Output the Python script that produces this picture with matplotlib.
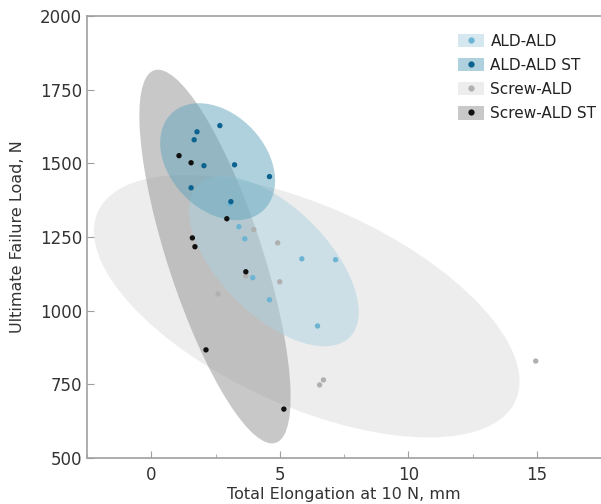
# scatter of elongation vs failure load with 90% confidence ellipses per group
import numpy as np
import matplotlib.pyplot as plt
from matplotlib.patches import Ellipse, Patch
from matplotlib.lines import Line2D
from matplotlib.ticker import MultipleLocator

groups = ["ALD-ALD", "ALD-ALD ST", "Screw-ALD", "Screw-ALD ST"]

ald_x = [3.06, 3.41, 3.64, 3.95, 4.6, 5.86, 7.17, 6.47]
ald_y = [1363, 1285, 1244, 1112, 1037, 1176, 1173, 948]

ald_st_x = [1.78, 1.67, 2.67, 2.05, 3.24, 4.6, 1.55, 3.1]
ald_st_y = [1607, 1580, 1628, 1492, 1495, 1455, 1417, 1370]

screw_x = [3.99, 4.92, 5.0, 3.68, 2.6, 6.7, 6.55, 14.96]
screw_y = [1275, 1230, 1098, 1118, 1057, 765, 748, 829]

screw_st_x = [1.08, 1.55, 2.94, 1.6, 1.7, 3.68, 2.13, 5.16]
screw_st_y = [1526, 1502, 1312, 1247, 1217, 1132, 867, 666]

xs = [ald_x, ald_st_x, screw_x, screw_st_x]
ys = [ald_y, ald_st_y, screw_y, screw_st_y]

dot_colors = ["#6db4d3", "#0d6390", "#b0b0b0", "#111111"]
fill_colors = ["#acd2e0", "#61a5bd", "#dcdcdc", "#939393"]
fill_alpha = 0.5

# 90% region for 2 dof
n_std = np.sqrt(-2 * np.log(0.1))


def conf_ellipse(x, y, ax, color, z):
    cov = np.cov(x, y)
    vals, vecs = np.linalg.eigh(cov)
    order = vals.argsort()[::-1]
    vals, vecs = vals[order], vecs[:, order]
    angle = np.degrees(np.arctan2(vecs[1, 0], vecs[0, 0]))
    w, h = 2 * n_std * np.sqrt(vals)
    e = Ellipse((np.mean(x), np.mean(y)), w, h, angle=angle,
                facecolor=color, alpha=fill_alpha, edgecolor="none", zorder=z)
    ax.add_patch(e)


fig = plt.figure(figsize=(6.01, 5.04), dpi=100)
ax = fig.add_axes([87 / 601, 46 / 504, 514 / 601, 442 / 504])

# screw groups underneath, ALD groups on top
draw_order = [2, 3, 0, 1]
for k, i in enumerate(draw_order):
    conf_ellipse(xs[i], ys[i], ax, fill_colors[i], 1 + k * 0.1)

for x, y, dc in zip(xs, ys, dot_colors):
    ax.scatter(x, y, s=15, color=dc, edgecolors="none", zorder=3)

ax.set_xlim(-2.5, 17.5)
ax.set_ylim(500, 2000)
ax.xaxis.set_major_locator(MultipleLocator(5))
ax.xaxis.set_minor_locator(MultipleLocator(2.5))
ax.yaxis.set_major_locator(MultipleLocator(250))

for s in ["left", "bottom", "top"]:
    ax.spines[s].set_color("#a0a0a0")
    ax.spines[s].set_linewidth(1.2)
ax.spines["right"].set_visible(False)

ax.tick_params(which="both", direction="in", color="#a0a0a0", labelcolor="#333333",
               labelsize=12)
ax.tick_params(which="major", length=5)
ax.tick_params(which="minor", length=3)
ax.tick_params(axis="x", pad=6)

ax.set_xlabel("Total Elongation at 10 N, mm", fontsize=11.5, color="#333333", labelpad=2)
ax.set_ylabel("Ultimate Failure Load, N", fontsize=11.5, color="#333333", labelpad=11)

handles = []
for fc, dc in zip(fill_colors, dot_colors):
    p = Patch(facecolor=fc, alpha=fill_alpha, edgecolor="none")
    m = Line2D([], [], marker="o", linestyle="none", markersize=4.5,
               markerfacecolor=dc, markeredgecolor="none")
    handles.append((p, m))

leg = ax.legend(handles, groups, loc="upper right", bbox_to_anchor=(1.012, 0.984),
                frameon=False, fontsize=11, handlelength=1.75, handleheight=0.95,
                handletextpad=0.4, labelspacing=0.6, borderpad=0.6,
                borderaxespad=0.1, labelcolor="#222222")

fig.savefig("out.png", dpi=100)
